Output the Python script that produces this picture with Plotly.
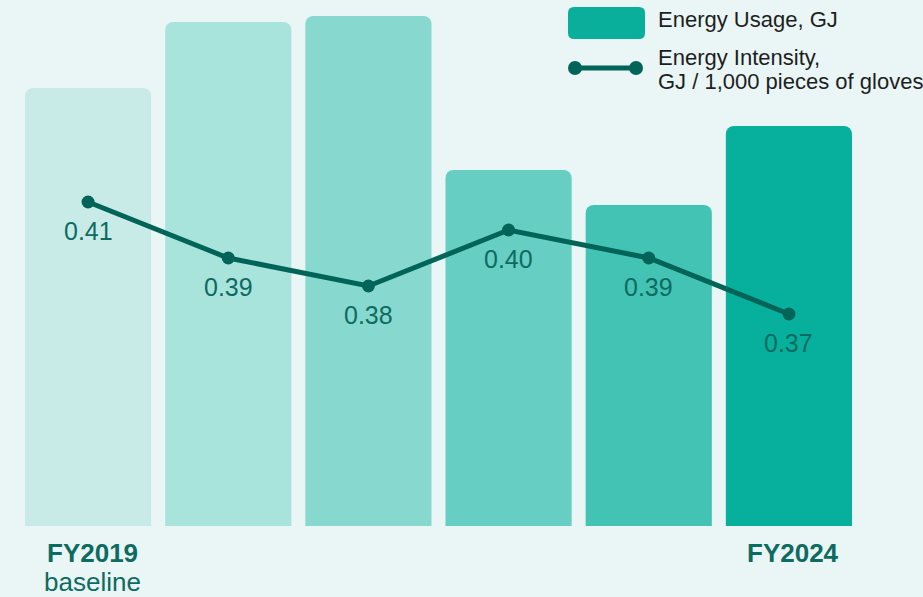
import plotly.graph_objects as go

categories = ["FY2019", "FY2020", "FY2021", "FY2022", "FY2023", "FY2024"]
tick_labels = ["<b>FY2019</b>", "", "", "", "", "<b>FY2024</b>"]
baseline_label = "baseline"
energy_usage = [438, 504, 510, 356, 321, 400]  # relative bar heights (no axis shown)
energy_intensity = [0.41, 0.39, 0.38, 0.40, 0.39, 0.37]
bar_colors = ["#c8ebe7", "#a8e3dc", "#87d9cf", "#66cec3", "#43c3b4", "#07b09c"]

BG = "#e9f6f5"
DARK = "#006459"
TXT = "#0d6b61"
FONT = "Liberation Sans, Arial, sans-serif"

W, H = 923, 597
ML, MR, MT, MB = 18, 64, 16, 71
PW, PH = W - ML - MR, H - MT - MB

def px(x):
    return (x - ML) / PW

def py(y):
    return (H - MB - y) / PH

fig = go.Figure()
fig.add_trace(go.Bar(
    x=categories, y=energy_usage, marker=dict(color=bar_colors, line=dict(width=0)),
    name="Energy Usage, GJ", yaxis="y", showlegend=False, hoverinfo="skip",
))
fig.add_trace(go.Scatter(
    x=categories, y=energy_intensity, mode="lines+markers", yaxis="y2",
    line=dict(color=DARK, width=5), marker=dict(color=DARK, size=13),
    name="Energy Intensity", showlegend=False, hoverinfo="skip",
))

annotations = []
for c, v in zip(categories, energy_intensity):
    annotations.append(dict(
        x=c, y=v, xref="x", yref="y2", text=f"{v:.2f}", showarrow=False,
        yanchor="top", xanchor="center", yshift=-13,
        font=dict(family=FONT, size=25, color=TXT),
    ))

# category labels (drawn as annotations anchored on the category axis)
for c, t in zip(categories, tick_labels):
    if t:
        annotations.append(dict(
            x=c, y=py(553), xref="x", yref="paper", text=t, showarrow=False,
            xanchor="center", yanchor="middle", xshift=4, borderpad=0,
            font=dict(family=FONT, size=26, color=TXT),
        ))
annotations.append(dict(
    x=categories[0], y=py(582), xref="x", yref="paper", text=baseline_label,
    showarrow=False, xanchor="center", yanchor="middle", xshift=4, borderpad=0,
    font=dict(family=FONT, size=26, color=TXT),
))

# custom legend
legend_font = dict(family=FONT, size=22, color="#1e1e1e")
annotations.append(dict(
    x=px(656), y=py(20), xref="paper", yref="paper", xanchor="left", yanchor="middle",
    text="Energy Usage, GJ", showarrow=False, align="left", font=legend_font,
))
annotations.append(dict(
    x=px(656), y=py(57), xref="paper", yref="paper", xanchor="left", yanchor="middle",
    text="Energy Intensity,", showarrow=False, align="left", font=legend_font,
))
annotations.append(dict(
    x=px(656), y=py(82), xref="paper", yref="paper", xanchor="left", yanchor="middle",
    text="GJ / 1,000 pieces of gloves", showarrow=False, align="left", font=legend_font,
))

def rrect(x0, y0, x1, y1, r):
    rx, ry = r / PW, r / PH
    X0, X1 = px(x0), px(x1)
    Y0, Y1 = py(y0), py(y1)
    return (f"M {X0+rx},{Y0} L {X1-rx},{Y0} Q {X1},{Y0} {X1},{Y0-ry} "
            f"L {X1},{Y1+ry} Q {X1},{Y1} {X1-rx},{Y1} L {X0+rx},{Y1} "
            f"Q {X0},{Y1} {X0},{Y1+ry} L {X0},{Y0-ry} Q {X0},{Y0} {X0+rx},{Y0} Z")

shapes = [
    dict(type="path", xref="paper", yref="paper", path=rrect(568, 7, 645, 39, 6),
         fillcolor="#0aaf9c", line=dict(width=0)),
    dict(type="line", xref="paper", yref="paper", x0=px(575), x1=px(636), y0=py(68), y1=py(68),
         line=dict(color=DARK, width=5)),
    dict(type="circle", xref="paper", yref="paper", x0=px(568), x1=px(582), y0=py(61), y1=py(75),
         fillcolor=DARK, line=dict(width=0)),
    dict(type="circle", xref="paper", yref="paper", x0=px(629), x1=px(643), y0=py(61), y1=py(75),
         fillcolor=DARK, line=dict(width=0)),
]

fig.update_layout(
    width=W, height=H,
    margin=dict(l=ML, r=MR, t=MT, b=MB, autoexpand=False),
    paper_bgcolor=BG, plot_bgcolor=BG,
    bargap=0.1, barcornerradius=8,
    showlegend=False,
    xaxis=dict(
        type="category", showticklabels=False, automargin=False,
        showgrid=False, zeroline=False, showline=False, ticks="",
    ),
    yaxis=dict(range=[0, 510], visible=False, showgrid=False, automargin=False),
    yaxis2=dict(range=[0.29429, 0.47643], overlaying="y", visible=False, showgrid=False,
                automargin=False),
    annotations=annotations,
    shapes=shapes,
)

fig.write_html("out.html")
